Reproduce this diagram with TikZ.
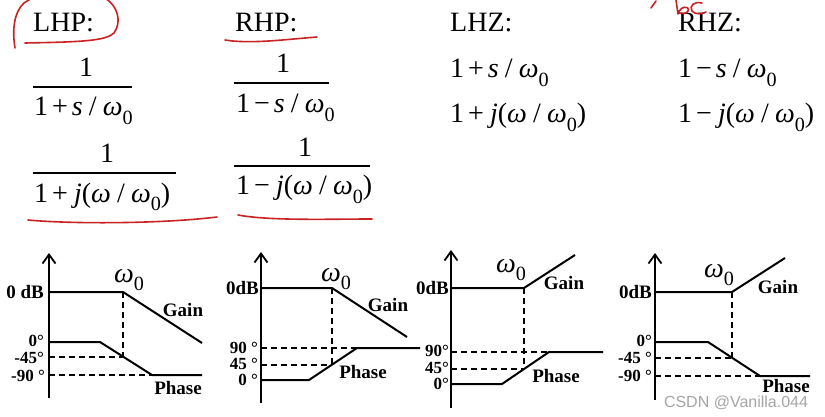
\documentclass[tikz,border=0pt]{standalone}
\usepackage{fontspec}
\setmainfont{Liberation Serif}
\newfontfamily\wmfont{Liberation Sans}
\usetikzlibrary{arrows.meta}
\definecolor{penred}{RGB}{200,35,35}
\definecolor{wmgray}{RGB}{165,165,165}
\newcommand\wo{\textit{ω}\raisebox{-0.3em}{\scalebox{0.72}{0}}}
\newcommand\ssp{\hspace{0.14em}}
\newcommand\bsp{\hspace{0.22em}}
\tikzset{
  hdr/.style={font=\fontsize{28}{30}\selectfont, inner sep=0pt, anchor=west},
  frm/.style={font=\fontsize{28}{30}\selectfont, inner sep=0pt},
  lbl/.style={font=\bfseries\fontsize{19}{21}\selectfont, inner sep=0pt},
  deg/.style={font=\bfseries\fontsize{17}{19}\selectfont, inner sep=0pt},
  wzl/.style={font=\fontsize{28}{30}\selectfont, inner sep=0pt},
  axisline/.style={line width=2pt, -{Straight Barb[length=9pt,width=13pt,line width=1.8pt]}},
  curve/.style={line width=2pt, line join=miter},
  guide/.style={line width=1.6pt, dash pattern=on 6pt off 4pt},
  fbar/.style={line width=1.3pt},
  redpen/.style={draw=penred, line width=1.6pt, line cap=round, line join=round},
  wmark/.style={font=\wmfont\fontsize{16}{18}\selectfont, text=wmgray, inner sep=0pt}
}
\begin{document}
\begin{tikzpicture}[x=1pt,y=-1pt]
\useasboundingbox (0,0) rectangle (825,417);
% ---------------- headers ----------------
\node[hdr] (lhp) at (33,23) {LHP:};
\node[hdr] (rhp) at (235,23) {RHP:};
\node[hdr] (lhz) at (450,23) {LHZ:};
\node[hdr] (rhz) at (678,23) {RHZ:};
% ---------------- LHP fractions ----------------
\node[frm, anchor=base] (ln1) at (86,77) {1};
\node[frm, anchor=base west] (ld1) at (34,116) {1\ssp+\ssp\textit{s}\bsp/\bsp\wo};
\coordinate (lb1a) at (33,87); \coordinate (lb1b) at (132,87);
\draw[fbar] (lb1a) -- (lb1b);
\node[frm, anchor=base] (ln2) at (107,163) {1};
\node[frm, anchor=base west] (ld2) at (34,202) {1\ssp+\bsp\textit{j}(\textit{ω}\bsp/\bsp\wo)};
\coordinate (lb2a) at (33,173); \coordinate (lb2b) at (176,173);
\draw[fbar] (lb2a) -- (lb2b);
% ---------------- RHP fractions ----------------
\node[frm, anchor=base] (rn1) at (283,73) {1};
\node[frm, anchor=base west] (rd1) at (236,113) {1\ssp−\ssp\textit{s}\bsp/\bsp\wo};
\coordinate (rb1a) at (234,83); \coordinate (rb1b) at (329,83);
\draw[fbar] (rb1a) -- (rb1b);
\node[frm, anchor=base] (rn2) at (305,157) {1};
\node[frm, anchor=base west] (rd2) at (236,195) {1\ssp−\bsp\textit{j}(\textit{ω}\bsp/\bsp\wo)};
\coordinate (rb2a) at (234,166); \coordinate (rb2b) at (370,166);
\draw[fbar] (rb2a) -- (rb2b);
% ---------------- LHZ / RHZ ----------------
\node[frm, anchor=base west] (z1) at (450,78) {1\ssp+\ssp\textit{s}\bsp/\bsp\wo};
\node[frm, anchor=base west] (z2) at (450,123) {1\ssp+\bsp\textit{j}(\textit{ω}\bsp/\bsp\wo)};
\node[frm, anchor=base west] (z3) at (678,78) {1\ssp−\ssp\textit{s}\bsp/\bsp\wo};
\node[frm, anchor=base west] (z4) at (678,123) {1\ssp−\bsp\textit{j}(\textit{ω}\bsp/\bsp\wo)};
% ---------------- red annotations ----------------
\draw[redpen] (15,48) .. controls (12,30) and (14,12) .. (24,3) .. controls (28,0) .. (32,-2);
\draw[redpen] (105,-2) .. controls (118,6) and (122,22) .. (114,33) .. controls (106,41) and (80,42) .. (25,43);
\draw[redpen] (225,40) .. controls (250,44) and (280,40) .. (317,37);
\draw[redpen] (28,220) .. controls (70,224) and (160,224) .. (217,217);
\draw[redpen] (238,215) .. controls (270,221) and (330,219) .. (372,219);
\draw[redpen] (651,8) -- (656,1);
\draw[redpen] (676,0) -- (678,14) .. controls (680,6) and (690,5) .. (688,11) .. controls (686,14) and (682,14) .. (679,13);
\draw[redpen] (702,3) .. controls (694,1) and (689,6) .. (692,11) .. controls (695,15) and (702,14) .. (706,12);
% ================= Plot 1 (LHP) =================
\coordinate (a1b) at (49,398); \coordinate (a1t) at (49,253);
\draw[axisline] (a1b) -- (a1t);
\coordinate (g1a) at (49,292); \coordinate (g1k) at (123,292); \coordinate (g1e) at (202,343);
\draw[curve] (g1a) -- (g1k) -- (g1e);
\coordinate (p1a) at (49,342); \coordinate (p1k1) at (100,342); \coordinate (p1k2) at (152,375); \coordinate (p1e) at (202,375);
\draw[curve] (p1a) -- (p1k1) -- (p1k2) -- (p1e);
\coordinate (p1m) at (123,357); \coordinate (d1a) at (49,357); \coordinate (d1b) at (49,375);
\draw[guide] (g1k) -- (p1m);
\draw[guide] (d1a) -- (p1m);
\draw[guide] (d1b) -- (p1k2);
\node[lbl, anchor=east] (l1a) at (44,292) {0 dB};
\node[deg, anchor=east] (l1b) at (44,341) {0°};
\node[deg, anchor=east] (l1c) at (44,358) {-45°};
\node[deg, anchor=east] (l1d) at (45,376) {-90 °};
\node[wzl] (w1) at (129,280) {\wo};
\node[lbl] (gain1) at (183,310) {Gain};
\node[lbl] (ph1) at (178,388) {Phase};
% ================= Plot 2 (RHP) =================
\coordinate (a2b) at (261,403); \coordinate (a2t) at (261,252);
\draw[axisline] (a2b) -- (a2t);
\coordinate (g2a) at (261,288); \coordinate (g2k) at (332,288); \coordinate (g2e) at (407,337);
\draw[curve] (g2a) -- (g2k) -- (g2e);
\coordinate (p2a) at (261,380); \coordinate (p2k1) at (309,380); \coordinate (p2k2) at (357,348); \coordinate (p2e) at (420,348);
\draw[curve] (p2a) -- (p2k1) -- (p2k2) -- (p2e);
\coordinate (p2m) at (332,364.7); \coordinate (d2a) at (261,364.7); \coordinate (d2b) at (261,348);
\draw[guide] (g2k) -- (p2m);
\draw[guide] (d2a) -- (p2m);
\draw[guide] (d2b) -- (p2k2);
\node[lbl, anchor=east] (l2a) at (259,288) {0dB};
\node[deg, anchor=east] (l2b) at (258,348) {90 °};
\node[deg, anchor=east] (l2c) at (258,364) {45 °};
\node[deg, anchor=east] (l2d) at (258,380) {0 °};
\node[wzl] (w2) at (336,279) {\wo};
\node[lbl] (gain2) at (388,305) {Gain};
\node[lbl] (ph2) at (363,372) {Phase};
% ================= Plot 3 (LHZ) =================
\coordinate (a3b) at (451,408); \coordinate (a3t) at (451,250);
\draw[axisline] (a3b) -- (a3t);
\coordinate (g3a) at (451,288); \coordinate (g3k) at (524,288); \coordinate (g3e) at (575,255);
\draw[curve] (g3a) -- (g3k) -- (g3e);
\coordinate (p3a) at (451,384); \coordinate (p3k1) at (502,384); \coordinate (p3k2) at (549,352); \coordinate (p3e) at (603,352);
\draw[curve] (p3a) -- (p3k1) -- (p3k2) -- (p3e);
\coordinate (p3m) at (524,369); \coordinate (d3a) at (451,369); \coordinate (d3b) at (451,352);
\draw[guide] (g3k) -- (p3m);
\draw[guide] (d3a) -- (p3m);
\draw[guide] (d3b) -- (p3k2);
\node[lbl, anchor=east] (l3a) at (449,288) {0dB};
\node[deg, anchor=east] (l3b) at (449,351) {90°};
\node[deg, anchor=east] (l3c) at (449,368) {45°};
\node[deg, anchor=east] (l3d) at (449,384) {0°};
\node[wzl] (w3) at (511,270) {\wo};
\node[lbl] (gain3) at (564,283) {Gain};
\node[lbl] (ph3) at (556,376) {Phase};
% ================= Plot 4 (RHZ) =================
\coordinate (a4b) at (655,400); \coordinate (a4t) at (655,253);
\draw[axisline] (a4b) -- (a4t);
\coordinate (g4a) at (655,292); \coordinate (g4k) at (732,292); \coordinate (g4e) at (785,258);
\draw[curve] (g4a) -- (g4k) -- (g4e);
\coordinate (p4a) at (655,342); \coordinate (p4k1) at (708,342); \coordinate (p4k2) at (760,376); \coordinate (p4e) at (810,376);
\draw[curve] (p4a) -- (p4k1) -- (p4k2) -- (p4e);
\coordinate (p4m) at (732,357.7); \coordinate (d4a) at (655,357.7); \coordinate (d4b) at (655,376);
\draw[guide] (g4k) -- (p4m);
\draw[guide] (d4a) -- (p4m);
\draw[guide] (d4b) -- (p4k2);
\node[lbl, anchor=east] (l4a) at (652,292) {0dB};
\node[deg, anchor=east] (l4b) at (652,341) {0°};
\node[deg, anchor=east] (l4c) at (652,358) {-45 °};
\node[deg, anchor=east] (l4d) at (652,376) {-90 °};
\node[wzl] (w4) at (719,275) {\wo};
\node[lbl] (gain4) at (778,287) {Gain};
\node[lbl] (ph4) at (786,386) {Phase};
\node[wmark] (wm) at (736,403) {CSDN @Vanilla.044};
\end{tikzpicture}
\end{document}
